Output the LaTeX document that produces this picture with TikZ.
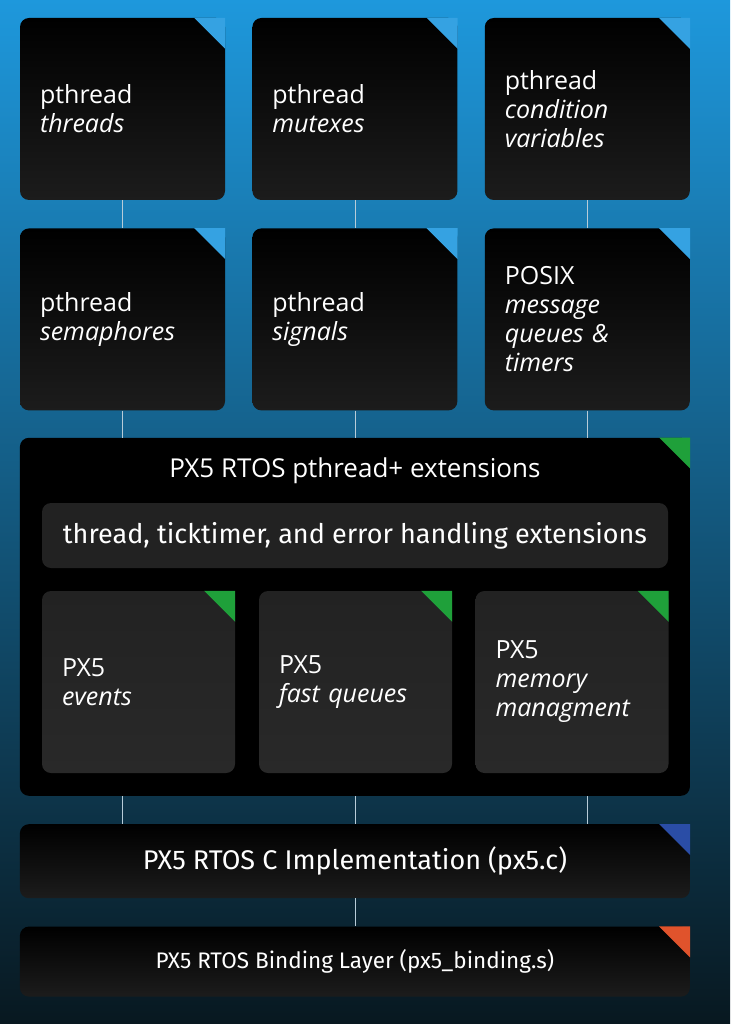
\documentclass[tikz,border=0pt]{standalone}
\usepackage{fontspec}
\setmainfont{Open Sans}
\newfontfamily\barfont{Fira Sans}
\usetikzlibrary{positioning}
\definecolor{bgtop}{HTML}{1E98DC}
\definecolor{bgmid}{HTML}{0D5684}
\definecolor{bgbot}{HTML}{081820}
\definecolor{tilebot}{HTML}{1C1C1C}
\definecolor{innerfill}{HTML}{222222}
\definecolor{innerbot}{HTML}{292929}
\definecolor{wirecol}{HTML}{B8CCD8}
\definecolor{cornerblue}{HTML}{35A2E2}
\definecolor{cornergreen}{HTML}{1FA03A}
\definecolor{cornernavy}{HTML}{2A4DA6}
\definecolor{cornerred}{HTML}{E0532C}
\tikzset{
  tile/.style = {rectangle, rounded corners=9pt, top color=black, bottom color=tilebot,
    text=white, text width=165pt, inner xsep=20pt, inner ysep=0pt,
    minimum height=182pt, align=left, font=\fontsize{25}{29}\selectfont},
  subtile/.style = {tile, top color=innerfill, bottom color=innerbot, text width=153pt},
  layer/.style = {rectangle, rounded corners=9pt, top color=black, bottom color=tilebot,
    text=white, minimum width=670pt, inner sep=0pt},
  wire/.style = {draw=wirecol, line width=0.8pt},
}
\begin{document}
\begin{tikzpicture}[x=1pt, y=-1pt, node distance=27pt]
  % background
  \useasboundingbox (0,0) rectangle (730,1024);
  \shade[top color=bgtop, middle color=bgmid, bottom color=bgbot] (0,0) rectangle (730,1024);
  %
  \node[tile] (thr) at (122.5,109) {pthread\\\textit{threads}};
  \node[tile] (mtx) [right=27pt of thr] {pthread\\\textit{mutexes}};
  \node[tile] (cond) [right=27pt of mtx] {pthread\\\textit{condition}\\\textit{variables}};
  \node[tile] (sem) [below=28pt of thr] {pthread\\\textit{semaphores}};
  \node[tile] (sig) [below=28pt of mtx] {pthread\\\textit{signals}};
  \node[tile] (msg) [below=28pt of cond] {POSIX\\\textit{message}\\\textit{queues \&}\\\textit{timers}};
  %
  \node[layer, top color=black, bottom color=black, minimum height=358pt] (ext) [below=27pt of sig] {};
  \node[text=white, font=\fontsize{26}{30}\selectfont] (exttitle) at ([yshift=-33pt]ext.north) {PX5 RTOS pthread+ extensions};
  \node[rectangle, rounded corners=9pt, fill=innerfill, text=white, minimum width=626pt,
    minimum height=65pt, font=\barfont\fontsize{27}{30}\selectfont] (bar) at (355,535.5)
    {thread, ticktimer, and error handling extensions};
  \node[subtile] (evt) at (138.5,682) {PX5\\\textit{events}};
  \node[subtile] (fq) at (355.5,682) {PX5\\\textit{fast queues}};
  \node[subtile] (mem) at (572,682) {PX5\\\textit{memory}\\\textit{managment}};
  %
  \node[layer, minimum height=74pt, font=\barfont\fontsize{27}{30}\selectfont] (cimpl) [below=28pt of ext] {PX5 RTOS C Implementation (px5.c)};
  \node[layer, minimum height=70pt, font=\barfont\fontsize{22.5}{26}\selectfont] (bind) [below=28pt of cimpl] {PX5 RTOS Binding Layer (px5\_binding.s)};
  %
  \foreach \n/\c in {thr/cornerblue, mtx/cornerblue, cond/cornerblue, sem/cornerblue,
      sig/cornerblue, msg/cornerblue, ext/cornergreen, evt/cornergreen, fq/cornergreen,
      mem/cornergreen, cimpl/cornernavy, bind/cornerred}
    \fill[\c] ([xshift=-31pt]\n.north east) -- (\n.north east) -- ([yshift=-31pt]\n.north east) -- cycle;
  %
  \draw[wire] (thr) -- (sem);
  \draw[wire] (mtx) -- (sig);
  \draw[wire] (cond) -- (msg);
  \draw[wire] (sem) -- (sem |- ext.north);
  \draw[wire] (sig) -- (sig |- ext.north);
  \draw[wire] (msg) -- (msg |- ext.north);
  \draw[wire] (sem |- ext.south) -- (sem |- cimpl.north);
  \draw[wire] (sig |- ext.south) -- (sig |- cimpl.north);
  \draw[wire] (msg |- ext.south) -- (msg |- cimpl.north);
  \draw[wire] (cimpl) -- (bind);
\end{tikzpicture}
\end{document}
